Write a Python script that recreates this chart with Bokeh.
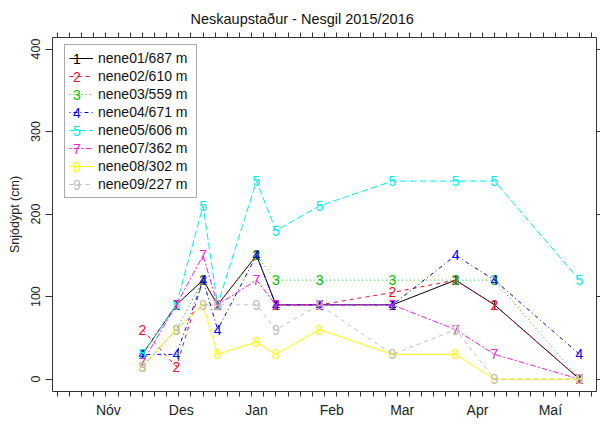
import pandas as pd
from bokeh.plotting import figure
from bokeh.models import (ColumnDataSource, FixedTicker, Legend, LegendItem,
                          LinearAxis, DatetimeAxis, Range1d)
from bokeh.core.properties import value
from bokeh.embed import file_html
from bokeh.resources import INLINE

# ---------------- data ----------------
dates = ["2015-11-29", "2015-12-13", "2015-12-24", "2015-12-30", "2016-01-15",
         "2016-01-23", "2016-02-10", "2016-03-11", "2016-04-06", "2016-04-22",
         "2016-05-27"]
stations = ["nene01", "nene02", "nene03", "nene04", "nene05", "nene07", "nene08", "nene09"]
elevations = [687, 610, 559, 671, 606, 362, 302, 227]
symbols = ["1", "2", "3", "4", "5", "7", "8", "9"]
nene01 = [30, 90, 120, 90, 150, 90, 90, 90, 120, 90, 0]
nene02 = [60, 15, 120, 90, 150, 90, 90, 105, 120, 90, 0]
nene03 = [15, 60, 120, 90, 150, 120, 120, 120, 120, 120, 0]
nene04 = [30, 30, 120, 60, 150, 90, 90, 90, 150, 120, 30]
nene05 = [30, 90, 210, 90, 240, 180, 210, 240, 240, 240, 120]
nene07 = [20, 90, 150, 90, 120, 90, 90, 90, 60, 30, 0]
nene08 = [15, 60, 90, 30, 45, 30, 60, 30, 30, 0, 0]
nene09 = [15, 60, 90, 90, 90, 60, 90, 30, 60, 0, 0]
series = [nene01, nene02, nene03, nene04, nene05, nene07, nene08, nene09]

month_labels = ["Nóv", "Des", "Jan", "Feb", "Mar", "Apr", "Maí"]
month_mids = ["2015-11-15", "2015-12-15", "2016-01-15", "2016-02-15",
              "2016-03-15", "2016-04-15", "2016-05-15"]
y_ticks = [0, 100, 200, 300, 400]

# ---------------- styles ----------------
colors = ["#000000", "#F01030", "#00C000", "#0000FF", "#00EEEE", "#F020E0", "#FFFF00", "#BEBEBE"]
dashes = ["solid", "4 4", "1 3", "1 3 4 3", "7 3", "2 2 6 2", "solid", "4 4"]
FONT = "Liberation Sans"


def ms(d):
    return pd.Timestamp(d).value / 1e6


x_dates = pd.to_datetime(dates)

p = figure(width=600, height=424, x_axis_type="datetime",
           x_range=Range1d(pd.Timestamp("2015-10-23"), pd.Timestamp("2016-06-03")),
           y_range=Range1d(-15, 414),
           output_backend="svg", toolbar_location=None,
           min_border_left=52, min_border_right=4, min_border_top=37, min_border_bottom=33)

p.xgrid.visible = False
p.ygrid.visible = False
p.outline_line_color = "#333333"
p.outline_line_width = 1
p.background_fill_color = "white"
p.border_fill_color = "white"

# title
p.title.text = "Neskaupstaður - Nesgil 2015/2016"
p.title.text_font = FONT
p.title.text_font_size = "14.5px"
p.title.text_font_style = "normal"
p.title.text_color = "#111111"
p.title.align = "left"
p.title.offset = 138
p.title.standoff = 12

# bottom axis
minor_dates = pd.date_range("2015-10-25", "2016-06-03", freq="5D")
minor_ms = [ms(d) for d in minor_dates]
mid_ms = [ms(d) for d in month_mids]
xa = p.xaxis[0]
xa.ticker = FixedTicker(ticks=mid_ms, minor_ticks=minor_ms)
xa.major_label_overrides = {m: lab for m, lab in zip(mid_ms, month_labels)}
xa.major_tick_out = 0
xa.major_tick_in = 0
xa.minor_tick_out = 5
xa.minor_tick_in = 0
xa.minor_tick_line_color = "#333333"
xa.axis_line_color = None
xa.major_label_standoff = 5
xa.major_label_text_font = FONT
xa.major_label_text_font_size = "14px"
xa.major_label_text_color = "#222222"

# top axis (ticks only)
ta = DatetimeAxis(ticker=FixedTicker(ticks=[], minor_ticks=minor_ms))
ta.minor_tick_out = 5
ta.minor_tick_in = 0
ta.minor_tick_line_color = "#333333"
ta.axis_line_color = None
ta.major_label_standoff = 0
p.add_layout(ta, "above")

# left axis
ya = p.yaxis[0]
ya.ticker = FixedTicker(ticks=y_ticks)
ya.major_tick_out = 7
ya.major_tick_in = 0
ya.minor_tick_out = 0
ya.major_tick_line_color = "#333333"
ya.axis_line_color = None
ya.major_label_orientation = "vertical"
ya.major_label_text_font = FONT
ya.major_label_text_font_size = "12.5px"
ya.major_label_text_color = "#222222"
ya.major_label_standoff = 5
ya.axis_label = "Snjódýpt (cm)"
ya.axis_label_text_font = FONT
ya.axis_label_text_font_size = "12.5px"
ya.axis_label_text_font_style = "normal"
ya.axis_label_text_color = "#222222"
ya.axis_label_standoff = 7

# right axis (ticks only)
ra = LinearAxis(ticker=FixedTicker(ticks=[], minor_ticks=y_ticks))
ra.minor_tick_out = 4
ra.minor_tick_in = 0
ra.minor_tick_line_color = "#333333"
ra.axis_line_color = None
ra.major_label_standoff = 0
p.add_layout(ra, "right")

# series
line_renderers = []
text_renderers = []
for vals, sym, col, dash in zip(series, symbols, colors, dashes):
    src = ColumnDataSource(dict(x=x_dates, y=vals, s=[sym] * len(vals)))
    lr = p.line("x", "y", source=src, line_color=col, line_dash=dash, line_width=1)
    tr = p.text("x", "y", text="s", source=src, text_color=col,
                text_font=value(FONT), text_font_size="14px",
                text_align="center", text_baseline="middle")
    line_renderers.append(lr)
    text_renderers.append(tr)

# legend (lines + labels)
items = [LegendItem(label=f"{st}/{el} m", renderers=[lr])
         for st, el, lr in zip(stations, elevations, line_renderers)]
leg = Legend(items=items, location=(12, 193), orientation="vertical",
             padding=4, margin=0, spacing=0,
             glyph_width=24, glyph_height=18, label_height=18, label_width=94,
             label_standoff=5,
             label_text_font=FONT, label_text_font_size="14px", label_text_color="#111111",
             border_line_color="#555555", border_line_width=1,
             background_fill_color="white", background_fill_alpha=1.0)
p.add_layout(leg, "center")

# numerals drawn over the legend line samples
for i, (sym, col, tr) in enumerate(zip(symbols, colors, text_renderers)):
    nl = Legend(items=[LegendItem(label=sym, renderers=[tr])],
                location=(21, 323 - 18 * i), padding=0, margin=0, spacing=0,
                glyph_width=0, glyph_height=18, label_height=18, label_width=8,
                label_standoff=0,
                label_text_font=FONT, label_text_font_size="14px", label_text_color=col,
                border_line_color=None, background_fill_alpha=0.0)
    p.add_layout(nl, "center")

open("out.html", "w").write(file_html(p, INLINE))
